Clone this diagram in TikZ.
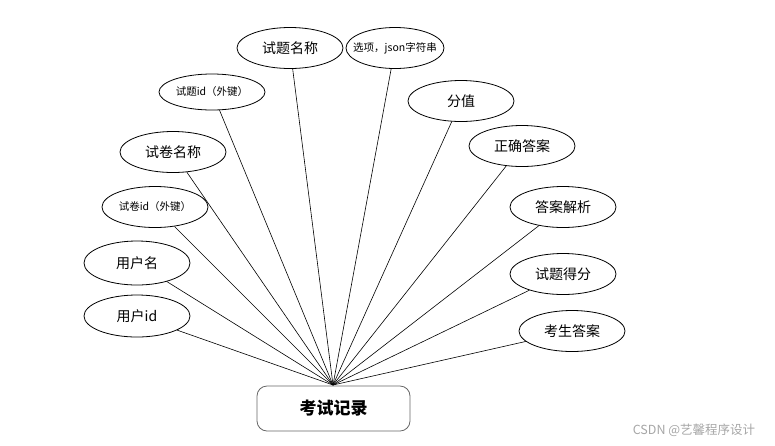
\documentclass[tikz,border=0pt]{standalone}
\usepackage{fontspec}
\usetikzlibrary{shapes.geometric}
\newfontfamily\cjk{Noto Sans CJK SC}
\newcommand{\fixw}[1]{\makebox[0pt]{#1}}
\begin{document}
\begin{tikzpicture}[x=1pt,y=-1pt,
  attr/.style={ellipse,draw,line width=0.8pt,inner sep=0pt,minimum width=106pt,minimum height=41pt,font=\cjk\fontsize{14}{14}\selectfont},
  small/.style={font=\cjk\fontsize{10.5}{10.5}\selectfont},
  link/.style={line width=0.6pt}]
\useasboundingbox (0,0) rectangle (775,445);
\node[attr] (a1) at (290,48) {\fixw{试题名称}};
\node[attr,small,minimum width=98pt] (a2) at (395,48) {\fixw{选项，json字符串}};
\node[attr,small,minimum height=36pt] (a3) at (212,92) {\fixw{试题id（外键）}};
\node[attr] (a4) at (461,101) {\fixw{分值}};
\node[attr] (a5) at (173,152) {\fixw{试卷名称}};
\node[attr] (a6) at (522,146) {\fixw{正确答案}};
\node[attr,small] (a7) at (155,207) {\fixw{试卷id（外键）}};
\node[attr] (a8) at (563,207) {\fixw{答案解析}};
\node[attr,minimum height=44pt] (a9) at (137,263) {\fixw{用户名}};
\node[attr] (a10) at (563,274) {\fixw{试题得分}};
\node[attr,minimum height=42pt] (a11) at (137,316) {\fixw{用户id}};
\node[attr] (a12) at (572,331) {\fixw{考生答案}};
\node[draw=black!60,rounded corners=10pt,minimum width=153pt,minimum height=45pt,line width=0.8pt,font=\cjk\bfseries\fontsize{17}{17}\selectfont] (main) at (333.5,408.5) {考试记录};
\coordinate (hub) at (333,385);
\foreach \n in {a1,a2,a3,a4,a5,a6,a7,a8,a9,a10,a11,a12}
  \draw[link] (hub) -- (\n);
\node[text=black!35,font=\cjk\fontsize{12.5}{12.5}\selectfont] (wm) at (694,430) {CSDN @艺馨程序设计};
\end{tikzpicture}
\end{document}
